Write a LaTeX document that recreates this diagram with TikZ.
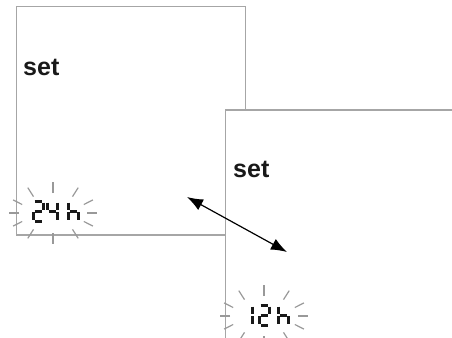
\documentclass[tikz,border=0pt]{standalone}
\usepackage{fontspec}
\setmainfont{Liberation Sans}
\usepackage{xcolor}
\usepackage{tikz}
\usetikzlibrary{arrows.meta,positioning,calc}

% seven segment pieces (cell 10 wide, 20 high)
\newcommand{\segA}{(1.5,0) -- (8.5,0)}
\newcommand{\segB}{(10,1.5) -- (10,8.8)}
\newcommand{\segC}{(10,11.2) -- (10,18.5)}
\newcommand{\segD}{(1.5,20) -- (8.5,20)}
\newcommand{\segE}{(0,11.2) -- (0,18.5)}
\newcommand{\segF}{(0,1.5) -- (0,8.8)}
\newcommand{\segG}{(1.5,10) -- (8.5,10)}
\newcommand{\lcdchar}[3]{%
  \begin{scope}[shift={(#1,#2)}]
    \foreach \s in {#3} \draw[segline] \s;
  \end{scope}}

\begin{document}
\begin{tikzpicture}[x=1pt, y=-1pt,
    panel/.style={draw=black!35, line width=1.2pt, fill=white, inner sep=0pt, outer sep=0pt},
    settext/.style={font=\bfseries\fontsize{25}{30}\selectfont, inner sep=0pt, anchor=base west, text=black!90},
    segline/.style={line width=3pt, black!90},
    ray/.style={draw=black!40, line width=1.2pt},
    >={Latex[length=16pt,width=12pt]}]

\useasboundingbox (0,0) rectangle (452,337);
\clip (0,0) rectangle (452,337);

% Left panel (24 h)
\node[panel, minimum width=229pt, minimum height=228.5pt] (left) at (131,120.75) {};
\node[settext] (set1) at (23,75) {set};
\coordinate (burst1) at (53,213);
\foreach \a in {0,25,55,90,125,155,180,205,235,270,305,335}
    \draw[ray, shift={(burst1)}] ({34*cos(\a)},{-20*sin(\a)}) -- ({44*cos(\a)},{-31*sin(\a)});
\lcdchar{33}{201}{\segA,\segB,\segG,\segE,\segD}
\lcdchar{47}{201}{\segF,\segG,\segB,\segC}
\lcdchar{68}{201}{\segF,\segE,\segG,\segC}

% Right panel (12 h), runs off the page
\node[panel, minimum width=260pt, minimum height=260pt] (right) at (355.5,240) {};
\node[settext] (set2) at (233,177) {set};
\coordinate (burst2) at (264,316);
\foreach \a in {0,25,55,90,125,155,180,205,235,270,305,335}
    \draw[ray, shift={(burst2)}] ({34*cos(\a)},{-20*sin(\a)}) -- ({44*cos(\a)},{-31*sin(\a)});
\lcdchar{242}{305}{\segB,\segC}
\lcdchar{259}{305}{\segA,\segB,\segG,\segE,\segD}
\lcdchar{278}{305}{\segF,\segE,\segG,\segC}

% Toggle arrow
\coordinate (tip1) at (187,197);
\coordinate (tip2) at (287,252);
\draw[<->, line width=1.2pt] (tip1) -- (tip2);

\end{tikzpicture}
\end{document}
